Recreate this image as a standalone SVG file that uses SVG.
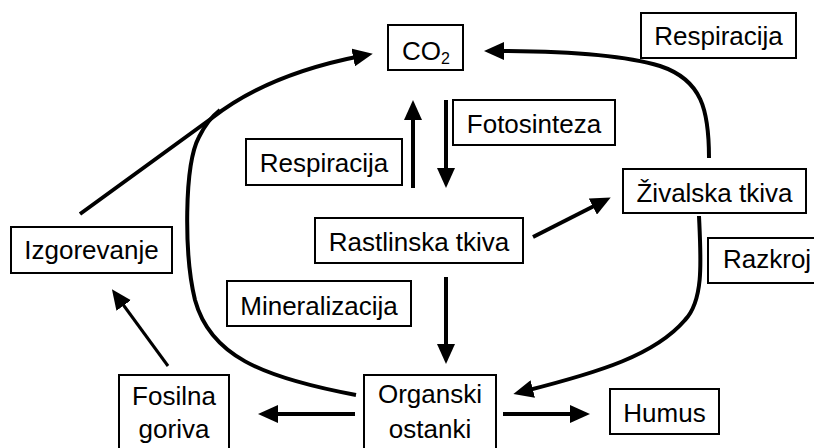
<svg xmlns="http://www.w3.org/2000/svg" width="814" height="448" viewBox="0 0 814 448">
<defs>
<marker id="ah" viewBox="0 0 20 18" refX="8" refY="9" markerWidth="20" markerHeight="18" markerUnits="userSpaceOnUse" orient="auto">
<path d="M0,0 L20,9 L0,18 z" fill="#000"/>
</marker>
</defs>
<style>
.box{fill:#fff;stroke:#000;stroke-width:2}
.t{font-family:"Liberation Sans",Arial,sans-serif;font-size:26px;fill:#000;text-anchor:middle}
.c{fill:none;stroke:#000;stroke-width:4}
.a{marker-end:url(#ah)}
</style>
<rect width="814" height="448" fill="#fff"/>
<g id="connectors">
<path class="c" d="M356,395 C260,377 210,355 195,300 C184,255 184,165 199,137 C205,125 211,117 220,110"/>
<path class="c a" d="M80,214 L212,118 C250,88 300,68 361,56"/>
<path class="c a" d="M413,188 L413,112"/>
<path class="c a" d="M446,100 L446,176"/>
<path class="c a" d="M533,237 L600,203"/>
<path class="c a" d="M709,158 C709,110 702,80 660,66 C620,54 560,51 496,51"/>
<path class="c a" d="M699,216 C701,260 704,300 685,320 C655,355 600,372 525,391"/>
<path class="c a" d="M446,277 L446,352"/>
<path class="c a" d="M355,414 L270,414"/>
<path class="c a" d="M503,414 L578,414"/>
<path class="c a" style="stroke-width:3" d="M168,366 L119,299"/>
</g>
<g id="co2"><rect class="box" x="388" y="25" width="75" height="45"/><text class="t" x="402" y="60" style="text-anchor:start">CO<tspan font-size="16" dy="4">2</tspan></text></g>
<g id="respiracija-top"><rect class="box" x="641" y="13" width="155" height="45"/><text class="t" x="718.5" y="45">Respiracija</text></g>
<g id="fotosinteza"><rect class="box" x="453" y="100" width="162" height="45"/><text class="t" x="534" y="133">Fotosinteza</text></g>
<g id="respiracija-left"><rect class="box" x="246" y="139" width="156" height="46"/><text class="t" x="324" y="172">Respiracija</text></g>
<g id="zivalska"><rect class="box" x="623" y="169" width="183" height="44"/><text class="t" x="714.5" y="202">Živalska tkiva</text></g>
<g id="rastlinska"><rect class="box" x="315" y="218" width="208" height="45"/><text class="t" x="419" y="251">Rastlinska tkiva</text></g>
<g id="izgorevanje"><rect class="box" x="11" y="227" width="161" height="46"/><text class="t" x="91.5" y="259">Izgorevanje</text></g>
<g id="mineralizacija"><rect class="box" x="227" y="281" width="184" height="45"/><text class="t" x="319" y="315">Mineralizacija</text></g>
<g id="razkroj"><rect class="box" x="708" y="238" width="112" height="45"/><text class="t" x="723" y="268" style="text-anchor:start">Razkroj</text></g>
<g id="fosilna"><rect class="box" x="119" y="375" width="110" height="80"/><text class="t" x="174" y="405">Fosilna</text><text class="t" x="174" y="438">goriva</text></g>
<g id="organski"><rect class="box" x="364" y="375" width="132" height="80"/><text class="t" x="430" y="403">Organski</text><text class="t" x="430" y="438">ostanki</text></g>
<g id="humus"><rect class="box" x="610" y="389" width="109" height="45"/><text class="t" x="664.5" y="422">Humus</text></g>
</svg>
